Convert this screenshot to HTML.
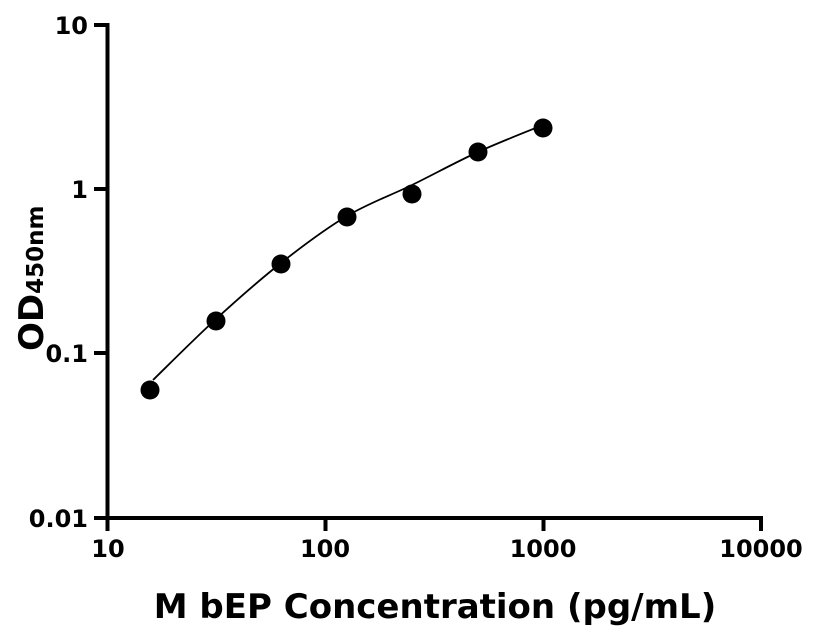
<!DOCTYPE html>
<html><head><meta charset="utf-8"><style>body{margin:0;background:#fff}svg{display:block}</style></head>
<body>
<svg width="816" height="640" xmlns="http://www.w3.org/2000/svg" font-family="'DejaVu Sans', sans-serif" font-weight="bold">
<g stroke="#000" stroke-width="4" fill="none">
<line x1="107.5" y1="23" x2="107.5" y2="520"/>
<line x1="105.5" y1="518" x2="763" y2="518"/>
<line x1="94" y1="25" x2="107" y2="25"/>
<line x1="94" y1="189" x2="107" y2="189"/>
<line x1="94" y1="353" x2="107" y2="353"/>
<line x1="94" y1="518" x2="107" y2="518"/>
<line x1="107.5" y1="518" x2="107.5" y2="531"/>
<line x1="325.5" y1="518" x2="325.5" y2="531"/>
<line x1="543.5" y1="518" x2="543.5" y2="531"/>
<line x1="761" y1="518" x2="761" y2="531"/>
</g>
<path d="M153,380 C163.5,369.8 194.7,338.5 216,319 C237.3,299.5 259.2,280.2 281,263 C302.8,245.8 325.2,229 347,216 C368.8,203 390.2,195.7 412,185 C433.8,174.3 456.2,162 478,152 C499.8,142 532.2,129.5 543,125" stroke="#000" stroke-width="1.8" fill="none"/>
<g fill="#000">
<circle cx="150" cy="390" r="9.5"/><circle cx="216" cy="321" r="9.5"/><circle cx="281" cy="264" r="9.5"/>
<circle cx="347" cy="217" r="9.5"/><circle cx="412" cy="194" r="9.5"/><circle cx="478" cy="152" r="9.5"/><circle cx="543" cy="128" r="9.5"/>
</g>
<g font-size="24" text-anchor="end">
<text x="88" y="34">10</text><text x="88" y="198">1</text><text x="88" y="362">0.1</text><text x="88" y="527">0.01</text>
</g>
<g font-size="24" text-anchor="middle">
<text x="108" y="557">10</text><text x="325" y="557">100</text><text x="543" y="557">1000</text><text x="761" y="557">10000</text>
</g>
<text x="435" y="618" font-size="34" text-anchor="middle">M bEP Concentration (pg/mL)</text>
<text transform="translate(43,351) rotate(-90)" font-size="34">OD<tspan font-size="23">450nm</tspan></text>
</svg>
</body></html>
